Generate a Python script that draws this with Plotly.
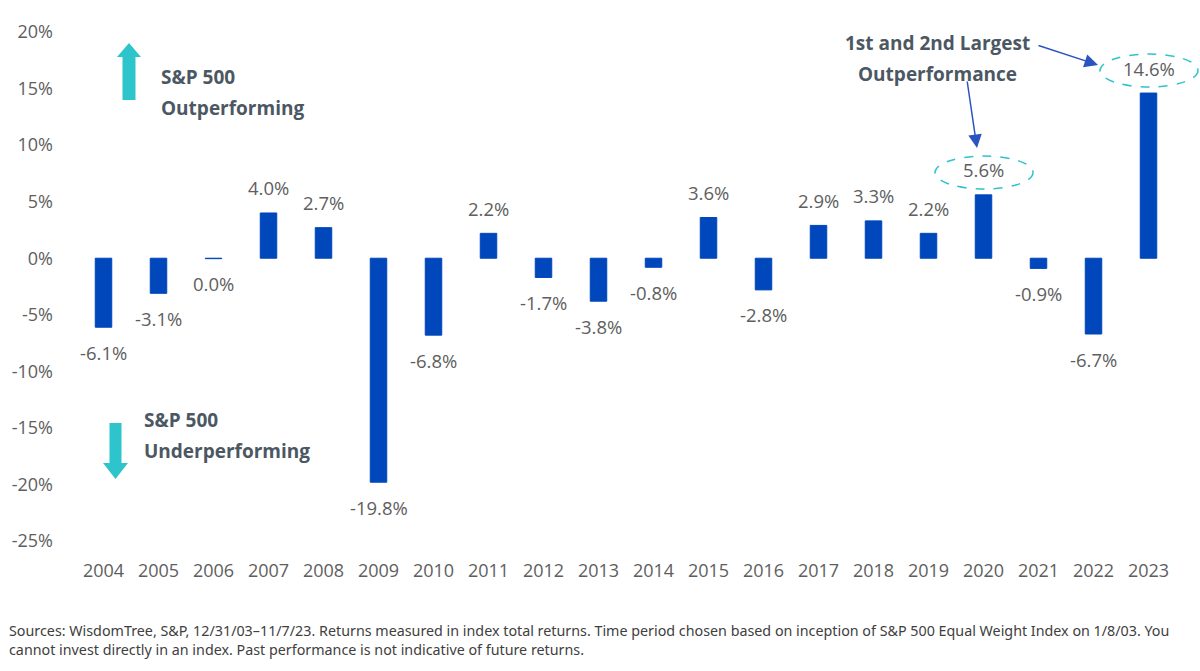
import plotly.graph_objects as go

years = [str(y) for y in range(2004, 2024)]
excess = [-6.1, -3.1, -0.04, 4.0, 2.7, -19.8, -6.8, 2.2, -1.7, -3.8,
          -0.8, 3.6, -2.8, 2.9, 3.3, 2.2, 5.6, -0.9, -6.7, 14.6]
y_ticks = [20, 15, 10, 5, 0, -5, -10, -15, -20, -25]

W, H = 1200, 671
L, R, T, B = 76, 24, 15, 113

BLUE = "#0047BB"
TEAL = "#2EC4CB"
GREY = "#5E5E5E"
SLATE = "#4B5863"


def px(x):
    return (x - L) / (W - L - R)


def py(y):
    return 1 - (y - T) / (H - T - B)


def poly(points):
    return "M " + " L ".join(f"{px(a):.5f},{py(b):.5f}" for a, b in points) + " Z"


fig = go.Figure()
fig.add_trace(go.Bar(
    x=years, y=excess,
    marker=dict(color=BLUE, line=dict(color=BLUE, width=1)),
    hoverinfo="x+y",
))

annotations = []
# category axis: annotation x is the category index
for i, v in enumerate(excess):
    annotations.append(dict(
        x=i, y=v, xref="x", yref="y",
        text=f"{round(v, 1) + 0:.1f}%",
        showarrow=False,
        yshift=25 if v >= 0 else -25,
        font=dict(family="Open Sans", size=18.5, color=GREY),
    ))

bold = dict(family="Open Sans", size=19, color=SLATE, weight="bold")
annotations += [
    dict(x=px(159), y=py(62), xref="paper", yref="paper", text="S&P 500",
         showarrow=False, xanchor="left", font=bold),
    dict(x=px(159), y=py(93), xref="paper", yref="paper", text="Outperforming",
         showarrow=False, xanchor="left", font=bold),
    dict(x=px(142), y=py(435), xref="paper", yref="paper", text="S&P 500",
         showarrow=False, xanchor="left", font=bold),
    dict(x=px(142), y=py(466), xref="paper", yref="paper", text="Underperforming",
         showarrow=False, xanchor="left", font=bold),
    dict(x=px(937), y=py(28), xref="paper", yref="paper", text="1st and 2nd Largest",
         showarrow=False, xanchor="center", font=bold),
    dict(x=px(937), y=py(59), xref="paper", yref="paper", text="Outperformance",
         showarrow=False, xanchor="center", font=bold),
]

# blue pointer arrows
for tail, head in [((967, 80), (977, 148)), ((1037, 45), (1098, 65))]:
    annotations.append(dict(
        x=px(head[0]), y=py(head[1]), xref="paper", yref="paper",
        ax=tail[0] - head[0], ay=tail[1] - head[1],
        text="", showarrow=True, arrowhead=2, arrowsize=1.8, arrowwidth=1.5,
        arrowcolor="#2A55C0", standoff=0,
    ))

annotations.append(dict(
    x=px(7), y=py(640), xref="paper", yref="paper",
    xanchor="left", yanchor="middle", align="left", showarrow=False,
    text="Sources: WisdomTree, S&P, 12/31/03–11/7/23. Returns measured in index total returns. "
         "Time period chosen based on inception of S&P 500 Equal Weight Index on 1/8/03. You<br>"
         "cannot invest directly in an index. Past performance is not indicative of future returns.",
    font=dict(family="Noto Sans", size=14.3, color="#404040"),
))

shapes = [
    # teal up/down arrows
    dict(type="path", xref="paper", yref="paper", fillcolor=TEAL, line=dict(width=0),
         path=poly([(129, 43), (141, 57), (135.5, 57), (135.5, 100), (122.5, 100), (122.5, 57), (117, 57)])),
    dict(type="path", xref="paper", yref="paper", fillcolor=TEAL, line=dict(width=0),
         path=poly([(109.5, 423), (121.5, 423), (121.5, 463), (128, 463), (115.5, 479), (103, 463), (109.5, 463)])),
    # dashed ellipses round the two largest
    dict(type="circle", xref="paper", yref="paper",
         x0=px(935), x1=px(1033), y0=py(189), y1=py(156),
         line=dict(color=TEAL, width=1.5, dash="dash")),
    dict(type="circle", xref="paper", yref="paper",
         x0=px(1100), x1=px(1198), y0=py(87), y1=py(54),
         line=dict(color=TEAL, width=1.5, dash="dash")),
]

fig.update_layout(
    width=W, height=H,
    margin=dict(l=L, r=R, t=T, b=B),
    paper_bgcolor="white", plot_bgcolor="white",
    bargap=0.7,
    showlegend=False,
    annotations=annotations,
    shapes=shapes,
    font=dict(family="Open Sans", size=18, color=GREY),
    xaxis=dict(type="category", range=[-0.5, len(years) - 0.5],
               showgrid=False, showline=False, zeroline=False, ticks="",
               tickfont=dict(size=18, color=GREY)),
    yaxis=dict(range=[-26.5, 21.5], tickvals=y_ticks,
               ticktext=[f"{t}%" for t in y_ticks],
               showgrid=False, showline=False, zeroline=False, ticks="",
               ticklabelstandoff=22, tickfont=dict(size=18, color=GREY)),
)

fig.write_html("out.html", config={"displayModeBar": False},
               post_script="document.body.style.margin = '0';")
